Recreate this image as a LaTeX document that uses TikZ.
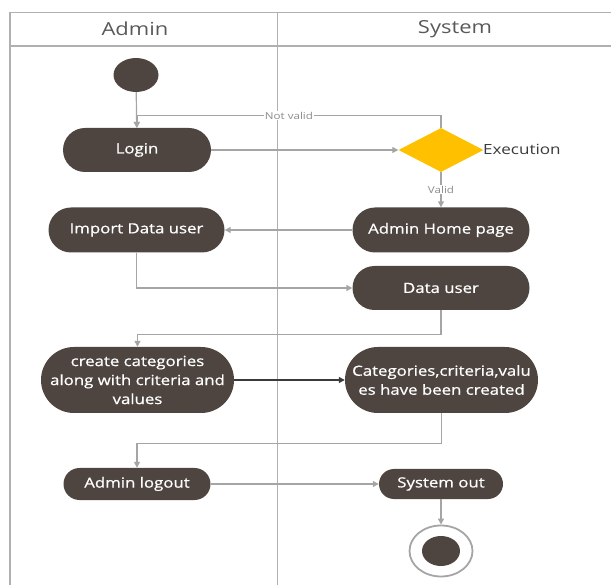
\documentclass[tikz,border=0pt]{standalone}
\usepackage{fontspec}
\setmainfont[FakeStretch=1.22]{Open Sans}
\newfontfamily\actfont[FakeStretch=1.2,FakeBold=0.7]{Open Sans}
\usetikzlibrary{arrows.meta,shapes.geometric,calc}
\definecolor{actfill}{HTML}{4E4540}
\definecolor{flowgray}{HTML}{A5A5A5}
\definecolor{lanegray}{HTML}{B0B0B0}
\definecolor{headgray}{HTML}{595959}
\definecolor{lblgray}{HTML}{8C8C8C}
\definecolor{decide}{HTML}{FFC000}
\definecolor{darkline}{HTML}{3A3A3A}
\begin{document}
\begin{tikzpicture}[x=1pt,y=-1pt,
  act/.style={fill=actfill,text=white,font=\actfont\fontsize{14}{19}\selectfont,align=center,inner sep=0pt},
  header/.style={text=headgray,font=\fontsize{18}{20}\selectfont,inner sep=0pt},
  lane/.style={draw=lanegray,line width=1.4pt},
  flow/.style={draw=flowgray,line width=1.2pt,-{Triangle[length=6pt,width=6pt]}},
  darkflow/.style={draw=darkline,line width=1.2pt,-{Triangle[length=6pt,width=6pt]}},
  lbl/.style={fill=white,text=lblgray,font=\fontsize{9.5}{10}\selectfont,inner sep=1pt},
]
\useasboundingbox (0,0) rectangle (611,585);

% swimlanes
\draw[lane] (10,585) -- (10,12.5) -- (611,12.5);
\draw[lane] (10,46) -- (611,46);
\draw[lane] (277.5,12.5) -- (277.5,585);
\node[header] (hadmin) at (135,29) {Admin};
\node[header] (hsystem) at (455,29) {System};

% initial and final states
\node[ellipse,fill=actfill,minimum width=45pt,minimum height=34pt,inner sep=0pt] (start) at (136,75) {};
\node[ellipse,draw=flowgray,line width=1.8pt,fill=white,minimum width=63pt,minimum height=51pt,inner sep=0pt] (endring) at (441,551) {};
\node[ellipse,fill=actfill,minimum width=38pt,minimum height=30pt,inner sep=0pt] (enddot) at (441,551) {};

% activities
\node[act,minimum width=148pt,minimum height=44pt,rounded corners=22pt] (login) at (137,150) {Login};
\node[diamond,fill=decide,minimum width=85pt,minimum height=44pt,inner sep=0pt] (exec) at (441,150) {};
\node[anchor=west,text=darkline,font=\fontsize{14}{16}\selectfont,inner sep=0pt] (execlbl) at (483,149) {Execution};
\node[act,minimum width=176pt,minimum height=45pt,rounded corners=22.5pt] (import) at (136.5,230) {Import Data user};
\node[act,minimum width=177pt,minimum height=45pt,rounded corners=22.5pt] (home) at (441,230) {Admin Home page};
\node[act,minimum width=177pt,minimum height=44pt,rounded corners=22pt] (data) at (441,288) {Data user};
\node[act,minimum width=193pt,minimum height=66pt,rounded corners=33pt] (create) at (137.5,380) {create categories\\along with criteria and\\values};
\node[act,minimum width=193pt,minimum height=66pt,rounded corners=33pt] (cats) at (441.5,380) {Categories,criteria,valu\\es have been created};
\node[act,minimum width=147pt,minimum height=32pt,rounded corners=16pt] (logout) at (137,484) {Admin logout};
\node[act,minimum width=124pt,minimum height=30pt,rounded corners=15pt] (sysout) at (441,484) {System out};

% control flow
\draw[flow] (start) -- (login);
\draw[flow] (exec.north) |- node[lbl,pos=0.75] {Not valid} ($(login.north)+(0,-12)$) -- (login.north);
\draw[flow] (login) -- (exec);
\draw[flow] (exec) -- node[lbl] {Valid} (home);
\draw[flow] (home) -- (import);
\draw[flow] (import.south) |- (data.west);
\draw[flow] (data.south) -- ++(0,24) -| (create.north);
\draw[darkflow] (create) -- (cats);
\draw[flow] (cats.south) -- ++(0,30) -| (logout.north);
\draw[flow] (logout) -- (sysout);
\draw[flow] (sysout) -- (endring);
\end{tikzpicture}
\end{document}
